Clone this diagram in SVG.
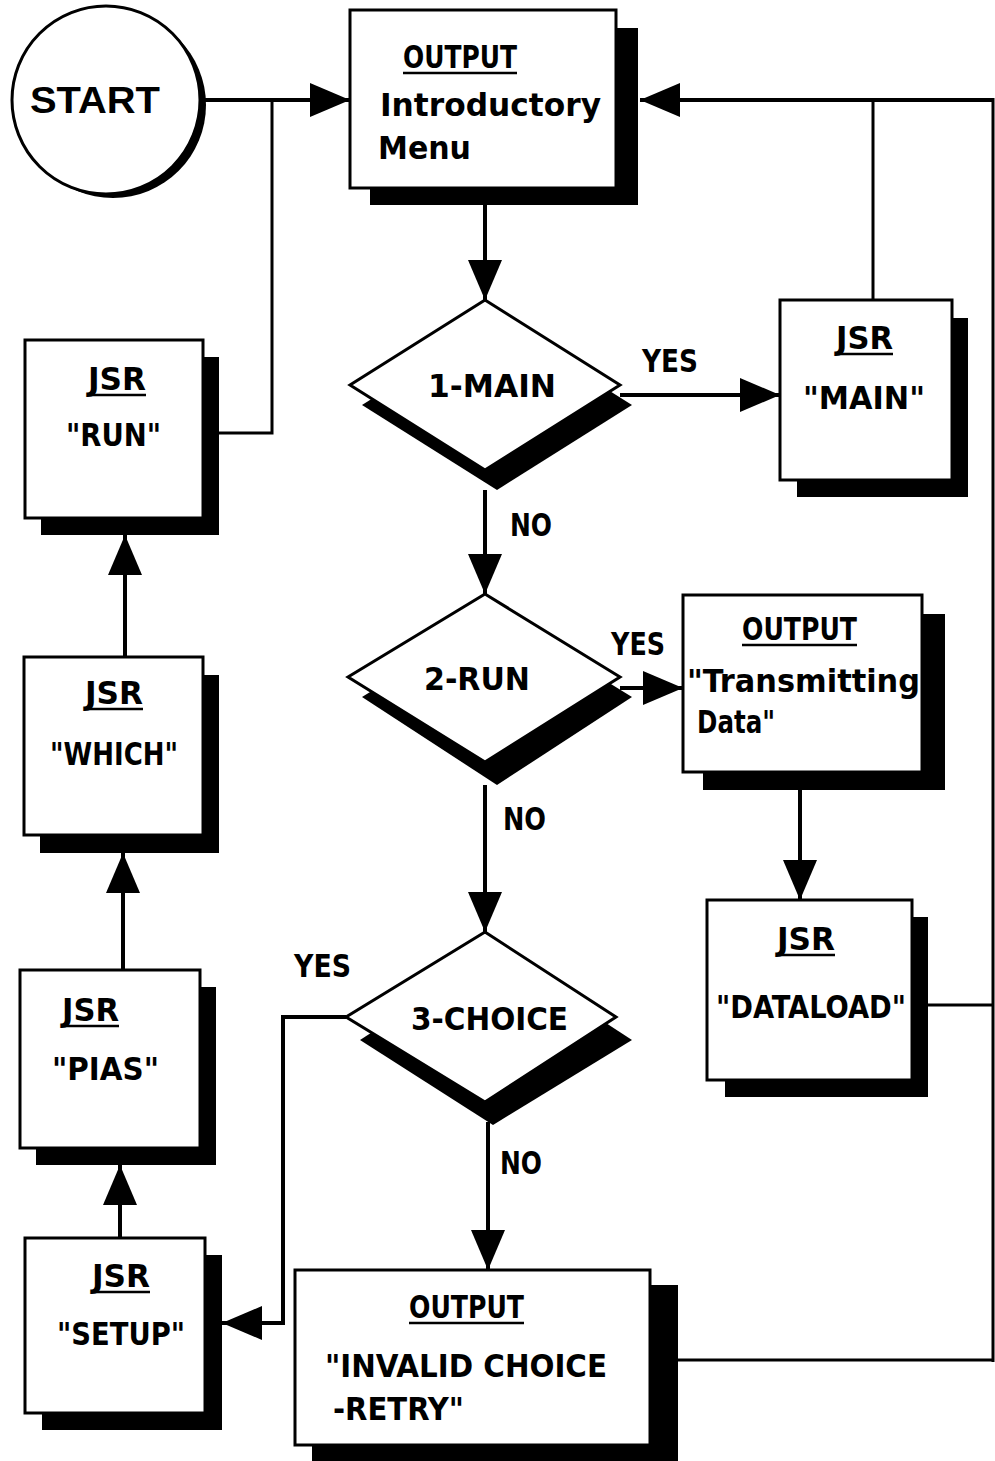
<svg xmlns="http://www.w3.org/2000/svg" width="995" height="1461" viewBox="0 0 995 1461">
<defs>
<style>
.box{fill:#fff;stroke:#000;stroke-width:3}
.sh{fill:#000}
.t{font-family:"DejaVu Sans Condensed","DejaVu Sans","Liberation Sans",sans-serif;font-weight:bold;font-size:32px;fill:#000}
.u{text-decoration:underline}
.st{font-family:"Liberation Sans",Arial,sans-serif;font-weight:bold;font-size:36px;fill:#000}
.c{fill:none;stroke:#000;stroke-width:4}
.c3{fill:none;stroke:#000;stroke-width:3}
.ul{stroke:#000;stroke-width:2.5}
</style>
<marker id="ah" markerUnits="userSpaceOnUse" markerWidth="42" markerHeight="36" refX="40" refY="17" orient="auto">
<path d="M0,0 L40,17 L0,34 z" fill="#000"/>
</marker>
</defs>
<rect width="995" height="1461" fill="#fff"/>

<g id="start">
<circle cx="113" cy="105" r="93" class="sh"/>
<circle cx="106" cy="100" r="94" class="box"/>
<text x="95" y="113" class="st" text-anchor="middle" textLength="130" lengthAdjust="spacingAndGlyphs">START</text>
</g>

<g id="menu">
<rect x="370" y="28" width="268" height="177" class="sh"/>
<rect x="350" y="10" width="266" height="178" class="box"/>
<text x="403" y="68" class="t" textLength="114" lengthAdjust="spacingAndGlyphs">OUTPUT</text>
<line x1="403" y1="73" x2="517" y2="73" class="ul"/>
<text x="380" y="116" class="t" textLength="221" lengthAdjust="spacingAndGlyphs">Introductory</text>
<text x="378" y="159" class="t" textLength="93" lengthAdjust="spacingAndGlyphs">Menu</text>
</g>

<g id="d1">
<polygon points="497,320 632,405 497,490 362,405" class="sh"/>
<polygon points="485,300 620,385 485,470 350,385" class="box"/>
<text x="428" y="397" class="t" textLength="128" lengthAdjust="spacingAndGlyphs">1-MAIN</text>
</g>

<g id="main">
<rect x="797" y="318" width="171" height="179" class="sh"/>
<rect x="780" y="300" width="172" height="180" class="box"/>
<text x="836" y="349" class="t" textLength="57" lengthAdjust="spacingAndGlyphs">JSR</text>
<line x1="836" y1="354" x2="893" y2="354" class="ul"/>
<text x="803" y="409" class="t" textLength="122" lengthAdjust="spacingAndGlyphs">"MAIN"</text>
</g>

<g id="d2">
<polygon points="497,614 632,697 497,785 362,697" class="sh"/>
<polygon points="485,594 620,677 485,762 348,677" class="box"/>
<text x="424" y="690" class="t" textLength="106" lengthAdjust="spacingAndGlyphs">2-RUN</text>
</g>

<g id="trans">
<rect x="703" y="614" width="242" height="176" class="sh"/>
<rect x="683" y="595" width="239" height="177" class="box"/>
<text x="742" y="640" class="t" textLength="115" lengthAdjust="spacingAndGlyphs">OUTPUT</text>
<line x1="742" y1="645" x2="857" y2="645" class="ul"/>
<text x="687" y="692" class="t" textLength="233" lengthAdjust="spacingAndGlyphs">"Transmitting</text>
<text x="697" y="733" class="t" textLength="78" lengthAdjust="spacingAndGlyphs">Data"</text>
</g>

<g id="dataload">
<rect x="725" y="917" width="203" height="180" class="sh"/>
<rect x="707" y="900" width="205" height="180" class="box"/>
<text x="777" y="950" class="t" textLength="58" lengthAdjust="spacingAndGlyphs">JSR</text>
<line x1="777" y1="955" x2="835" y2="955" class="ul"/>
<text x="716" y="1018" class="t" textLength="190" lengthAdjust="spacingAndGlyphs">"DATALOAD"</text>
</g>

<g id="d3">
<polygon points="497,952 632,1040 493,1125 360,1040" class="sh"/>
<polygon points="485,932 616,1017 485,1102 346,1017" class="box"/>
<text x="411" y="1030" class="t" textLength="157" lengthAdjust="spacingAndGlyphs">3-CHOICE</text>
</g>

<g id="invalid">
<rect x="312" y="1285" width="366" height="176" class="sh"/>
<rect x="295" y="1270" width="355" height="175" class="box"/>
<text x="409" y="1318" class="t" textLength="115" lengthAdjust="spacingAndGlyphs">OUTPUT</text>
<line x1="409" y1="1323" x2="524" y2="1323" class="ul"/>
<text x="325" y="1377" class="t" textLength="282" lengthAdjust="spacingAndGlyphs">"INVALID CHOICE</text>
<text x="333" y="1420" class="t" textLength="131" lengthAdjust="spacingAndGlyphs">-RETRY"</text>
</g>

<g id="setup">
<rect x="42" y="1255" width="180" height="175" class="sh"/>
<rect x="25" y="1238" width="180" height="175" class="box"/>
<text x="92" y="1287" class="t" textLength="58" lengthAdjust="spacingAndGlyphs">JSR</text>
<line x1="92" y1="1292" x2="150" y2="1292" class="ul"/>
<text x="57" y="1345" class="t" textLength="128" lengthAdjust="spacingAndGlyphs">"SETUP"</text>
</g>

<g id="pias">
<rect x="36" y="987" width="180" height="178" class="sh"/>
<rect x="20" y="970" width="180" height="178" class="box"/>
<text x="62" y="1021" class="t" textLength="57" lengthAdjust="spacingAndGlyphs">JSR</text>
<line x1="62" y1="1026" x2="119" y2="1026" class="ul"/>
<text x="52" y="1080" class="t" textLength="107" lengthAdjust="spacingAndGlyphs">"PIAS"</text>
</g>

<g id="which">
<rect x="40" y="675" width="179" height="178" class="sh"/>
<rect x="24" y="657" width="179" height="178" class="box"/>
<text x="85" y="704" class="t" textLength="58" lengthAdjust="spacingAndGlyphs">JSR</text>
<line x1="85" y1="709" x2="143" y2="709" class="ul"/>
<text x="50" y="765" class="t" textLength="128" lengthAdjust="spacingAndGlyphs">"WHICH"</text>
</g>

<g id="run">
<rect x="41" y="357" width="178" height="178" class="sh"/>
<rect x="25" y="340" width="178" height="178" class="box"/>
<text x="88" y="390" class="t" textLength="58" lengthAdjust="spacingAndGlyphs">JSR</text>
<line x1="88" y1="395" x2="146" y2="395" class="ul"/>
<text x="66" y="446" class="t" textLength="95" lengthAdjust="spacingAndGlyphs">"RUN"</text>
</g>

<g id="connectors">
<line x1="200" y1="100" x2="350" y2="100" class="c" marker-end="url(#ah)"/>
<polyline points="219,433 272,433 272,100" class="c3"/>
<line x1="485" y1="205" x2="485" y2="300" class="c" marker-end="url(#ah)"/>
<line x1="993" y1="100" x2="640" y2="100" class="c" marker-end="url(#ah)"/>
<line x1="873" y1="300" x2="873" y2="100" class="c3"/>
<line x1="993" y1="98" x2="993" y2="1362" class="c3"/>
<line x1="928" y1="1005" x2="993" y2="1005" class="c3"/>
<line x1="678" y1="1360" x2="993" y2="1360" class="c3"/>
<line x1="620" y1="395" x2="780" y2="395" class="c" marker-end="url(#ah)"/>
<line x1="485" y1="490" x2="485" y2="594" class="c" marker-end="url(#ah)"/>
<line x1="620" y1="688" x2="683" y2="688" class="c" marker-end="url(#ah)"/>
<line x1="800" y1="790" x2="800" y2="900" class="c" marker-end="url(#ah)"/>
<line x1="485" y1="785" x2="485" y2="932" class="c" marker-end="url(#ah)"/>
<polyline points="346,1017 283,1017 283,1323 222,1323" class="c" marker-end="url(#ah)"/>
<line x1="488" y1="1122" x2="488" y2="1270" class="c" marker-end="url(#ah)"/>
<line x1="120" y1="1238" x2="120" y2="1165" class="c" marker-end="url(#ah)"/>
<line x1="123" y1="970" x2="123" y2="853" class="c" marker-end="url(#ah)"/>
<line x1="125" y1="657" x2="125" y2="535" class="c" marker-end="url(#ah)"/>
</g>

<g id="labels">
<text x="642" y="372" class="t" textLength="56" lengthAdjust="spacingAndGlyphs">YES</text>
<text x="510" y="536" class="t" textLength="42" lengthAdjust="spacingAndGlyphs">NO</text>
<text x="611" y="655" class="t" textLength="54" lengthAdjust="spacingAndGlyphs">YES</text>
<text x="503" y="830" class="t" textLength="43" lengthAdjust="spacingAndGlyphs">NO</text>
<text x="294" y="977" class="t" textLength="57" lengthAdjust="spacingAndGlyphs">YES</text>
<text x="500" y="1174" class="t" textLength="42" lengthAdjust="spacingAndGlyphs">NO</text>
</g>
</svg>
